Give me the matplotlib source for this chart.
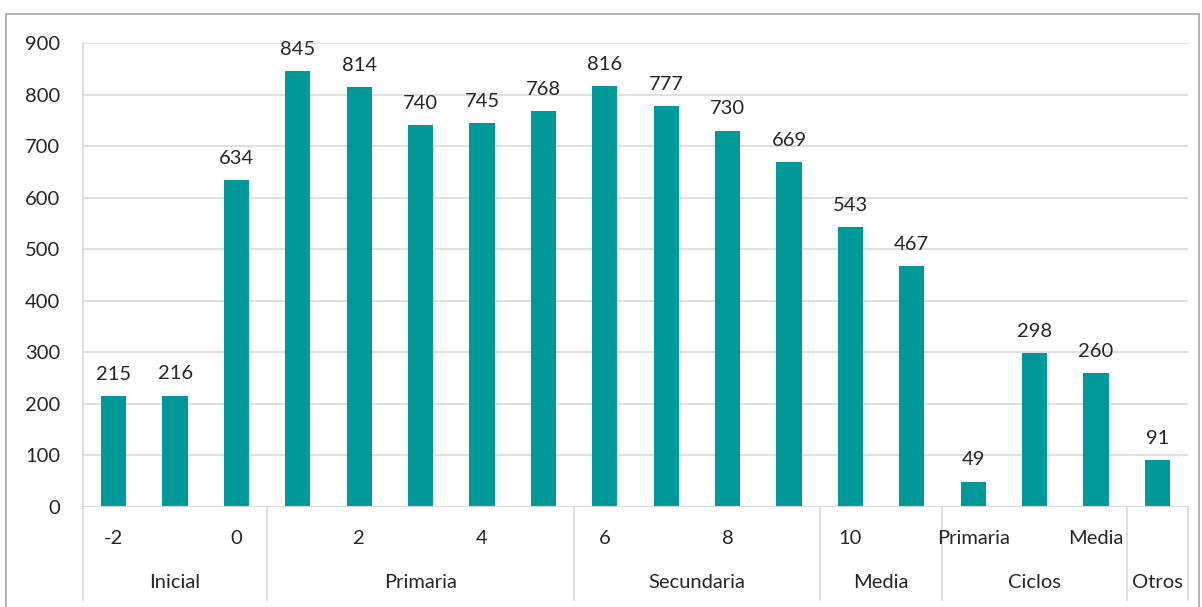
import matplotlib.pyplot as plt
import matplotlib.transforms as mtransforms
from matplotlib.patches import Rectangle
from matplotlib.lines import Line2D

plt.rcParams['font.family'] = ['Lato', 'DejaVu Sans']

# datos
valores = [215, 216, 634, 845, 814, 740, 745, 768, 816, 777, 730, 669, 543, 467, 49, 298, 260, 91]
etiquetas = ['-2', '', '0', '', '2', '', '4', '', '6', '', '8', '', '10', '', 'Primaria', '', 'Media', '']
grupos = ['Inicial', 'Primaria', 'Secundaria', 'Media', 'Ciclos', 'Otros']
tam_grupos = [3, 5, 4, 2, 3, 1]

color_barra = '#009999'
color_texto = '#262626'
color_linea = '#d9d9d9'
fs = 14.5

W, H = 1202, 607
fig = plt.figure(figsize=(W / 100, H / 100), dpi=100)
# marco exterior del grafico
fig.patches.append(Rectangle((6 / W, -0.01), (1199 - 6) / W, 1 - 14 / H + 0.01,
                             transform=fig.transFigure, fill=False,
                             edgecolor='#a6a6a6', linewidth=1.2))

ax = fig.add_axes([83 / W, 1 - 507 / H, (1188 - 83) / W, (507 - 43) / H])
x = list(range(len(valores)))
ax.bar(x, valores, width=0.41, color=color_barra, zorder=3)
for xi, v in zip(x, valores):
    ax.text(xi, v + 26, str(v), ha='center', va='bottom', fontsize=fs, color=color_texto)

ax.set_xlim(-0.5, len(valores) - 0.5)
ax.set_ylim(0, 900)
ax.set_yticks(range(0, 901, 100))
ax.tick_params(axis='y', length=0, labelsize=fs, labelcolor=color_texto, pad=16.5)
ax.set_xticks([])
ax.grid(axis='y', color=color_linea, linewidth=1.2, zorder=0)
for s in ['top', 'right', 'bottom']:
    ax.spines[s].set_visible(False)
ax.spines['left'].set_color(color_linea)
ax.spines['left'].set_linewidth(1.2)
ax.axhline(0, color=color_linea, linewidth=1.5, zorder=4)

# ejes categoricos de dos niveles
trans = mtransforms.blended_transform_factory(ax.transData, fig.transFigure)
for xi, et in zip(x, etiquetas):
    ax.text(xi, 1 - 538 / H, et, transform=trans, ha='center', va='center',
            fontsize=fs, color=color_texto)

inicio = -0.5
bordes = [inicio]
for g, n in zip(grupos, tam_grupos):
    fin = inicio + n
    ax.text((inicio + fin) / 2, 1 - 583 / H, g, transform=trans, ha='center', va='center',
            fontsize=fs, color=color_texto)
    bordes.append(fin)
    inicio = fin
for b in bordes:
    ax.add_line(Line2D([b, b], [1 - 507 / H, 1 - 600 / H], transform=trans,
                       color=color_linea, linewidth=1.2, clip_on=False))

fig.savefig('out.png', dpi=100)
